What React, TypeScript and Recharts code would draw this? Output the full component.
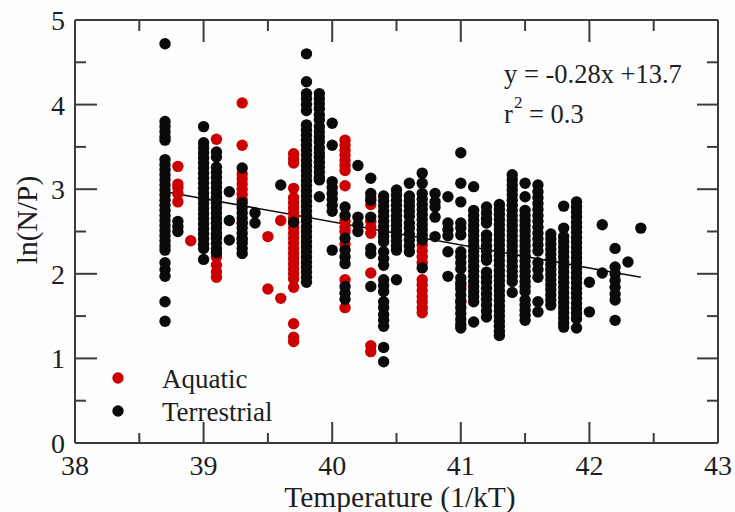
import React from 'react';
import { ScatterChart, Scatter, XAxis, YAxis, ReferenceLine } from 'recharts';

const xTicks = [38, 38.5, 39, 39.5, 40, 40.5, 41, 41.5, 42, 42.5, 43];
const yTicks = [0, 0.5, 1, 1.5, 2, 2.5, 3, 3.5, 4, 4.5, 5];

// each entry: [temperature (1/kT), list of ln(N/P) values at that temperature]
const terrestrialColumns: [number, number[]][] = [
  [38.7, [4.72, 3.8, 3.74, 3.68, 3.62, 3.58, 3.35, 3.29, 3.23, 3.17, 3.11, 3.05, 2.99, 2.93, 2.87, 2.81, 2.75, 2.69, 2.63, 2.57, 2.51, 2.45, 2.39, 2.33, 2.28, 2.13, 2.05, 1.97, 1.67, 1.44]],
  [38.8, [2.62, 2.56, 2.5]],
  [39.0, [3.74, 3.55, 3.49, 3.43, 3.37, 3.31, 3.25, 3.19, 3.13, 3.07, 3.01, 2.95, 2.89, 2.83, 2.77, 2.71, 2.65, 2.59, 2.53, 2.47, 2.41, 2.35, 2.3, 2.17]],
  [39.1, [3.44, 3.38, 3.26, 3.2, 3.14, 3.08, 3.02, 2.96, 2.9, 2.84, 2.78, 2.72, 2.66, 2.6, 2.54, 2.48, 2.42, 2.36, 2.3, 2.25]],
  [39.2, [2.97, 2.63, 2.4]],
  [39.3, [3.25, 2.84, 2.78, 2.72, 2.66, 2.6, 2.54, 2.48, 2.42, 2.36, 2.3, 2.24]],
  [39.4, [2.72, 2.6]],
  [39.6, [3.05]],
  [39.7, [2.61]],
  [39.8, [4.6, 4.27, 4.13, 4.07, 4.0, 3.93, 3.76, 3.7, 3.64, 3.58, 3.52, 3.46, 3.4, 3.34, 3.28, 3.22, 3.16, 3.1, 3.04, 2.98, 2.92, 2.86, 2.8, 2.74, 2.68, 2.62, 2.56, 2.5, 2.44, 2.38, 2.32, 2.26, 2.2, 2.14, 2.08, 2.02, 1.96, 1.9]],
  [39.9, [4.13, 4.07, 4.01, 3.95, 3.88, 3.82, 3.74, 3.68, 3.62, 3.56, 3.49, 3.43, 3.38, 3.32, 3.26, 3.2, 3.14, 3.11, 2.91]],
  [40.0, [3.78, 3.52, 3.09, 3.02, 2.95, 2.88, 2.81, 2.74, 2.28]],
  [40.1, [2.79, 2.69, 2.42, 2.28, 2.2, 2.12, 1.85, 1.77, 1.7]],
  [40.2, [3.28, 2.67, 2.58, 2.5]],
  [40.3, [3.13, 2.95, 2.87, 2.67, 2.3, 2.24, 1.85]],
  [40.4, [2.92, 2.86, 2.8, 2.74, 2.68, 2.62, 2.56, 2.5, 2.44, 2.38, 2.26, 2.18, 2.1, 1.93, 1.86, 1.79, 1.67, 1.6, 1.52, 1.45, 1.38, 1.13, 0.96]],
  [40.5, [2.99, 2.93, 2.87, 2.81, 2.75, 2.69, 2.63, 2.57, 2.51, 2.45, 2.39, 2.33, 2.28, 1.93]],
  [40.6, [3.07, 2.92, 2.86, 2.8, 2.74, 2.68, 2.6, 2.54, 2.47, 2.4, 2.33, 2.26]],
  [40.7, [3.19, 3.07, 2.95, 2.88, 2.82, 2.76, 2.7, 2.64, 2.58, 2.52, 2.46, 2.4, 2.07]],
  [40.8, [2.95, 2.85, 2.79, 2.67, 2.44]],
  [40.9, [2.91, 2.6, 2.52, 2.45, 2.26, 1.97]],
  [41.0, [3.43, 3.07, 2.85, 2.6, 2.54, 2.46, 2.26, 2.2, 2.13, 2.06, 1.95, 1.89, 1.82, 1.75, 1.68, 1.6, 1.53, 1.46, 1.4, 1.36]],
  [41.1, [3.03, 2.75, 2.69, 2.63, 2.57, 2.51, 2.45, 2.39, 2.33, 2.27, 2.21, 2.15, 2.09, 2.03, 1.97, 1.91, 1.85, 1.79, 1.73, 1.67, 1.43]],
  [41.2, [2.79, 2.72, 2.65, 2.6, 2.46, 2.4, 2.33, 2.27, 2.2, 2.16, 2.02, 1.96, 1.9, 1.83, 1.76, 1.7, 1.63, 1.56, 1.49]],
  [41.3, [2.82, 2.76, 2.7, 2.64, 2.58, 2.52, 2.46, 2.4, 2.34, 2.28, 2.22, 2.16, 2.1, 2.04, 1.98, 1.92, 1.86, 1.8, 1.74, 1.68, 1.62, 1.56, 1.5, 1.44, 1.38, 1.32, 1.27]],
  [41.4, [3.17, 3.11, 3.05, 2.99, 2.93, 2.87, 2.81, 2.75, 2.69, 2.63, 2.57, 2.51, 2.45, 2.39, 2.33, 2.27, 2.21, 2.15, 2.09, 2.03, 1.97, 1.91, 1.78]],
  [41.5, [3.07, 2.91, 2.75, 2.69, 2.63, 2.57, 2.51, 2.45, 2.39, 2.33, 2.27, 2.21, 2.15, 2.09, 2.03, 1.97, 1.91, 1.85, 1.79, 1.69, 1.63, 1.57, 1.51, 1.45]],
  [41.6, [3.05, 2.97, 2.9, 2.83, 2.76, 2.69, 2.62, 2.55, 2.48, 2.41, 2.34, 2.27, 2.13, 2.05, 1.96, 1.67, 1.55]],
  [41.7, [2.47, 2.41, 2.35, 2.29, 2.23, 2.17, 2.11, 2.05, 1.99, 1.93, 1.87, 1.81, 1.75, 1.69, 1.63]],
  [41.8, [2.8, 2.54, 2.44, 2.38, 2.32, 2.26, 2.2, 2.14, 2.08, 2.02, 1.96, 1.9, 1.84, 1.78, 1.72, 1.66, 1.6, 1.54, 1.48, 1.42, 1.37]],
  [41.9, [2.85, 2.79, 2.73, 2.67, 2.61, 2.55, 2.49, 2.43, 2.37, 2.31, 2.25, 2.19, 2.13, 2.07, 2.01, 1.95, 1.89, 1.83, 1.77, 1.71, 1.65, 1.59, 1.53, 1.47, 1.36]],
  [42.0, [1.9, 1.55]],
  [42.1, [2.58, 2.01]],
  [42.2, [2.3, 2.08, 2.0, 1.92, 1.84, 1.76, 1.69, 1.45]],
  [42.3, [2.14]],
  [42.4, [2.54]],
];

const aquaticColumns: [number, number[]][] = [
  [38.8, [3.27, 3.06, 3.02, 2.95, 2.85]],
  [38.9, [2.39]],
  [39.1, [3.59, 2.9, 2.6, 2.45, 2.2, 2.1, 2.02, 1.96]],
  [39.3, [4.02, 3.52, 3.18, 3.12, 3.06, 3.0, 2.94, 2.88, 2.6, 2.4]],
  [39.5, [2.44, 1.82]],
  [39.6, [2.63, 1.71]],
  [39.7, [3.42, 3.36, 3.31, 3.01, 2.9, 2.84, 2.78, 2.72, 2.66, 2.6, 2.54, 2.48, 2.42, 2.36, 2.3, 2.24, 2.18, 2.12, 2.06, 2.0, 1.94, 1.84, 1.41, 1.25, 1.2]],
  [40.1, [3.58, 3.52, 3.46, 3.4, 3.34, 3.28, 3.22, 3.04, 2.62, 2.55, 2.5, 2.35, 1.93, 1.6]],
  [40.3, [2.9, 2.82, 2.62, 2.55, 2.48, 2.01, 1.15, 1.08]],
  [40.7, [2.34, 2.27, 2.2, 2.13, 1.93, 1.87, 1.8, 1.73, 1.67, 1.6, 1.54]],
  [41.0, [1.86, 1.66]],
];

const fitStart = { x: 38.7, y: 2.97 };
const fitEnd = { x: 42.4, y: 1.96 };

const legendItems = [
  { name: 'Aquatic', color: '#cc0000' },
  { name: 'Terrestrial', color: '#0a0a0a' },
];

const toPoints = (cols: [number, number[]][]) =>
  cols.flatMap(([x, ys]) => ys.map((y) => ({ x, y })));

const terrestrial = toPoints(terrestrialColumns);
const aquatic = toPoints(aquaticColumns);

const AXIS = '#3c3c3c';
const TEXT = '#1e1e1e';
const FONT = '"Liberation Serif", "Times New Roman", serif';
const RED = '#cc0000';
const BLACK = '#0a0a0a';

const isMajor = (v: number) => Math.abs(v - Math.round(v)) < 1e-9;

const T = ({ x, y, anchor = 'start', size = 27, children }: any) => (
  <text x={x} y={y} textAnchor={anchor} fontFamily={FONT} fontSize={size} fill={TEXT}>
    {children}
  </text>
);

const BottomTick = (p: any) => {
  const v = p.payload.value;
  const m = isMajor(v);
  return (
    <g>
      <line x1={p.x} x2={p.x} y1={p.y} y2={p.y - (m ? 21 : 10)} stroke={AXIS} strokeWidth={2} />
      {m && <T x={p.x} y={p.y + 32} anchor="middle" size={28}>{v}</T>}
    </g>
  );
};
const TopTick = (p: any) => {
  const m = isMajor(p.payload.value);
  return <line x1={p.x} x2={p.x} y1={p.y} y2={p.y + (m ? 22 : 11)} stroke={AXIS} strokeWidth={2} />;
};
const LeftTick = (p: any) => {
  const v = p.payload.value;
  const m = isMajor(v);
  return (
    <g>
      <line x1={p.x} x2={p.x + (m ? 22 : 11)} y1={p.y} y2={p.y} stroke={AXIS} strokeWidth={2} />
      {m && <T x={p.x - 10} y={p.y + 10} anchor="end" size={28}>{v}</T>}
    </g>
  );
};
const RightTick = (p: any) => {
  const m = isMajor(p.payload.value);
  return <line x1={p.x} x2={p.x - (m ? 21 : 11)} y1={p.y} y2={p.y} stroke={AXIS} strokeWidth={2} />;
};

const Dot = (color: string) => (p: any) => <circle cx={p.cx} cy={p.cy} r={5.7} fill={color} />;

export default function App() {
  return (
    <div style={{ position: 'absolute', left: 0, top: 0, width: 735, height: 512, background: '#fdfdfd' }}>
      <ScatterChart width={735} height={512} margin={{ top: 10, right: 7, bottom: 59, left: 65 }}>
        <XAxis
          xAxisId="b"
          type="number"
          dataKey="x"
          domain={[38, 43]}
          ticks={xTicks}
          interval={0}
          height={10}
          tickSize={0}
          tickMargin={0}
          tickLine={false}
          axisLine={{ stroke: AXIS, strokeWidth: 2 }}
          tick={BottomTick}
          allowDataOverflow
        />
        <XAxis
          xAxisId="t"
          orientation="top"
          type="number"
          dataKey="x"
          domain={[38, 43]}
          ticks={xTicks}
          interval={0}
          height={10}
          tickSize={0}
          tickMargin={0}
          tickLine={false}
          axisLine={{ stroke: AXIS, strokeWidth: 2 }}
          tick={TopTick}
          allowDataOverflow
        />
        <YAxis
          yAxisId="l"
          type="number"
          dataKey="y"
          domain={[0, 5]}
          ticks={yTicks}
          interval={0}
          width={10}
          tickSize={0}
          tickMargin={0}
          tickLine={false}
          axisLine={{ stroke: AXIS, strokeWidth: 2 }}
          tick={LeftTick}
          allowDataOverflow
        />
        <YAxis
          yAxisId="r"
          orientation="right"
          type="number"
          dataKey="y"
          domain={[0, 5]}
          ticks={yTicks}
          interval={0}
          width={10}
          tickSize={0}
          tickMargin={0}
          tickLine={false}
          axisLine={{ stroke: AXIS, strokeWidth: 2 }}
          tick={RightTick}
          allowDataOverflow
        />
        <Scatter name="Aquatic" data={aquatic} xAxisId="b" yAxisId="l" fill={RED} shape={Dot(RED)} isAnimationActive={false} />
        <Scatter name="Terrestrial" data={terrestrial} xAxisId="b" yAxisId="l" fill={BLACK} shape={Dot(BLACK)} isAnimationActive={false} />
        <ReferenceLine
          xAxisId="b"
          yAxisId="l"
          segment={[fitStart, fitEnd]}
          stroke="#111"
          strokeWidth={1.6}
          ifOverflow="visible"
        />
      </ScatterChart>
      <svg width={735} height={512} style={{ position: 'absolute', left: 0, top: 0, pointerEvents: 'none' }}>
        <T x={400} y={507} anchor="middle" size={29.5}>Temperature (1/kT)</T>
        <text
          transform="translate(37, 220) rotate(-90)"
          textAnchor="middle"
          fontFamily={FONT}
          fontSize={29.5}
          fill={TEXT}
        >
          ln(N/P)
        </text>
        <T x={504} y={83} size={26.5}>y = -0.28x +13.7</T>
        <T x={504} y={123} size={26.5}>r</T>
        <T x={514} y={108} size={17}>2</T>
        <T x={529} y={123} size={26.5}>= 0.3</T>
        {legendItems.map((it, i) => (
          <g key={it.name}>
            <circle cx={118} cy={378 + i * 33} r={5.7} fill={it.color} />
            <T x={162} y={388 + i * 33}>{it.name}</T>
          </g>
        ))}
      </svg>
    </div>
  );
}
